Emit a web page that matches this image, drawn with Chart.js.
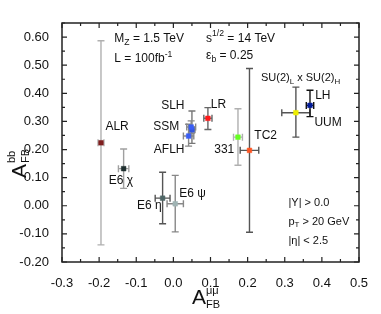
<!DOCTYPE html>
<html><head><meta charset="utf-8">
<script src="https://cdn.jsdelivr.net/npm/chart.js@4.4.1/dist/chart.umd.min.js"></script>
<style>html,body{margin:0;padding:0;background:#fff}#wrap{width:381px;height:314px}</style>
</head><body><div id="wrap"><canvas id="c" width="381" height="314"></canvas></div>
<script>
// ---- data ----
const models   = ['ALR','E6 chi','E6 eta','E6 psi','SLH','SSM','AFLH','LR','331','TC2','SU(2)LxSU(2)H','LH'];
const afbMuMu  = [-0.195,-0.134,-0.029, 0.005, 0.050, 0.048, 0.041, 0.093, 0.174, 0.205, 0.330, 0.368];
const errMuMu  = [ 0.008, 0.014, 0.020, 0.022, 0.008, 0.012, 0.014, 0.011, 0.012, 0.025, 0.038, 0.010];
const afbBB    = [ 0.224, 0.132, 0.027, 0.007, 0.270, 0.280, 0.248, 0.311, 0.244, 0.197, 0.331, 0.357];
const bbLow    = [-0.139, 0.062,-0.064,-0.093, 0.222, 0.258, 0.212, 0.271, 0.144,-0.094, 0.244, 0.317];
const bbHigh   = [ 0.587, 0.202, 0.119, 0.108, 0.337, 0.302, 0.290, 0.349, 0.345, 0.488, 0.422, 0.411];
const markColors = ['#7f1f1f','#1f2f2f','#4f6666','#a0b4b4','#3355dd','#3a5ef5','#3a5ef5','#ff1a1a','#66ff22','#ff5522','#eeee00','#001a99'];
const barColors  = ['#b0b0b0','#a0a0a0','#555555','#888888','#777777','#888888','#888888','#666666','#b0b0b0','#555555','#555555','#111111'];
const xTicks = [-0.3,-0.2,-0.1,0.0,0.1,0.2,0.3,0.4,0.5];
const yTicks = [-0.2,-0.1,0.0,0.1,0.2,0.3,0.4,0.5,0.6];

// text annotations (data coordinates)
const notes = [
 {x:-0.183,y:0.280,a:'left',s:12,p:[['ALR',0]]},
 {x:-0.174,y:0.090,a:'left',s:12,p:[['E6 χ',0]]},
 {x:-0.098,y:0.000,a:'left',s:12,p:[['E6 η',0]]},
 {x: 0.016,y:0.042,a:'left',s:12,p:[['E6 ψ',0]]},
 {x: 0.030,y:0.357,a:'right',s:12,p:[['SLH',0]]},
 {x: 0.016,y:0.280,a:'right',s:12,p:[['SSM',0]]},
 {x: 0.030,y:0.200,a:'right',s:12,p:[['AFLH',0]]},
 {x: 0.101,y:0.361,a:'left',s:12,p:[['LR',0]]},
 {x: 0.164,y:0.200,a:'right',s:12,p:[['331',0]]},
 {x: 0.218,y:0.248,a:'left',s:12,p:[['TC2',0]]},
 {x: 0.236,y:0.453,a:'left',s:11,p:[['SU(2)',0],['L',1],[' x SU(2)',0],['H',1]]},
 {x: 0.382,y:0.390,a:'left',s:12,p:[['LH',0]]},
 {x: 0.380,y:0.295,a:'left',s:12,p:[['UUM',0]]},
 {x:-0.159,y:0.593,a:'left',s:12,p:[['M',0],['Z',1],[' = 1.5 TeV',0]]},
 {x:-0.159,y:0.522,a:'left',s:12,p:[['L = 100fb',0],['-1',2]]},
 {x: 0.088,y:0.595,a:'left',s:12,p:[['s',0],['1/2',2],[' = 14 TeV',0]]},
 {x: 0.088,y:0.533,a:'left',s:12,p:[['ε',0],['b',1],[' = 0.25',0]]},
 {x: 0.310,y:0.010,a:'left',s:11,p:[['|Y| > 0.0',0]]},
 {x: 0.310,y:-0.056,a:'left',s:11,p:[['p',0],['T',1],[' > 20 GeV',0]]},
 {x: 0.310,y:-0.124,a:'left',s:11,p:[['|η| < 2.5',0]]}
];

const FONT = '"Liberation Sans", Arial, sans-serif';
function rich(ctx, x, y, parts, size, align){
  let w = 0;
  const ms = parts.map(([t,m])=>{ const fs = m? size*0.72 : size; ctx.font = fs+'px '+FONT; const mw = ctx.measureText(t).width; w += mw; return mw; });
  let cx = align==='right' ? x - w : (align==='center'? x - w/2 : x);
  ctx.textBaseline = 'middle'; ctx.textAlign = 'left';
  parts.forEach(([t,m],i)=>{
    const fs = m? size*0.72 : size; ctx.font = fs+'px '+FONT;
    const dy = m===1 ? size*0.32 : (m===2 ? -size*0.38 : 0);
    ctx.fillText(t, cx, y+dy); cx += ms[i];
  });
}

const errPlugin = {
  id:'err',
  beforeDatasetsDraw(chart){
    const {ctx, scales:{x,y}} = chart;
    ctx.save(); ctx.lineWidth = 1.4;
    afbMuMu.forEach((v,i)=>{
      ctx.strokeStyle = barColors[i];
      const px = x.getPixelForValue(v), py = y.getPixelForValue(afbBB[i]);
      const y1 = y.getPixelForValue(bbLow[i]), y2 = y.getPixelForValue(bbHigh[i]);
      const x1 = x.getPixelForValue(v-errMuMu[i]), x2 = x.getPixelForValue(v+errMuMu[i]);
      ctx.beginPath();
      ctx.moveTo(px,y1); ctx.lineTo(px,y2);
      ctx.moveTo(px-3.5,y1); ctx.lineTo(px+3.5,y1);
      ctx.moveTo(px-3.5,y2); ctx.lineTo(px+3.5,y2);
      ctx.moveTo(x1,py); ctx.lineTo(x2,py);
      ctx.moveTo(x1,py-3.5); ctx.lineTo(x1,py+3.5);
      ctx.moveTo(x2,py-3.5); ctx.lineTo(x2,py+3.5);
      ctx.stroke();
    });
    ctx.restore();
  },
  afterDraw(chart){
    const {ctx, chartArea:ca, scales:{x,y}} = chart;
    ctx.save();
    ctx.strokeStyle = '#222'; ctx.lineWidth = 1.5;
    ctx.strokeRect(ca.left, ca.top, ca.right-ca.left, ca.bottom-ca.top);
    ctx.lineWidth = 1.2; ctx.beginPath();
    for(let k=-6;k<=10;k++){
      const v = k*0.05, px = x.getPixelForValue(v), L = (k%2===0)?5:3;
      ctx.moveTo(px,ca.bottom); ctx.lineTo(px,ca.bottom-L);
      ctx.moveTo(px,ca.top); ctx.lineTo(px,ca.top+L);
    }
    for(let k=-4;k<=13;k++){
      const v = k*0.05, py = y.getPixelForValue(v), L = (k%2===0)?5:3;
      ctx.moveTo(ca.left,py); ctx.lineTo(ca.left+L,py);
      ctx.moveTo(ca.right,py); ctx.lineTo(ca.right-L,py);
    }
    ctx.stroke();
    ctx.fillStyle = '#111';
    notes.forEach(n=> rich(ctx, x.getPixelForValue(n.x), y.getPixelForValue(n.y), n.p, n.s, n.a));
    // axis titles
    rich(ctx, 192, 298, [['A',0]], 21, 'left');
    ctx.font = '11px '+FONT; ctx.textBaseline='middle';
    ctx.fillText('μμ', 206, 291); ctx.fillText('FB', 206, 305);
    ctx.translate(20, 170); ctx.rotate(-Math.PI/2);
    rich(ctx, -8, 0, [['A',0]], 21, 'left');
    ctx.font = '11px '+FONT;
    ctx.fillText('bb', 7, -8); ctx.fillText('FB', 7, 6);
    ctx.restore();
  }
};

new Chart(document.getElementById('c'), {
  type:'scatter',
  data:{ datasets:[{
    data: afbMuMu.map((v,i)=>({x:v, y:afbBB[i]})),
    pointStyle:'rect', pointRadius:3.3, pointHoverRadius:3.3,
    backgroundColor: markColors, borderColor: markColors, borderWidth:0.5
  }]},
  options:{
    responsive:false, animation:false, devicePixelRatio:1,
    layout:{padding:{top:23,right:22,left:0,bottom:0}},
    plugins:{legend:{display:false}, tooltip:{enabled:false}},
    scales:{
      x:{type:'linear', min:-0.3, max:0.5,
         afterBuildTicks(s){ s.ticks = xTicks.map(v=>({value:v})); },
         afterFit(s){ s.height = 52; },
         grid:{display:false}, border:{display:false},
         ticks:{padding:6, color:'#111', font:{family:FONT,size:13}, callback:v=>Number(v).toFixed(1), maxRotation:0}},
      y:{type:'linear', min:-0.2, max:0.65,
         afterBuildTicks(s){ s.ticks = yTicks.map(v=>({value:v})); },
         afterFit(s){ s.width = 62; },
         grid:{display:false}, border:{display:false},
         ticks:{padding:5, color:'#111', font:{family:FONT,size:13}, callback:v=>Number(v).toFixed(2)}}
    }
  },
  plugins:[errPlugin]
});
</script></body></html>
